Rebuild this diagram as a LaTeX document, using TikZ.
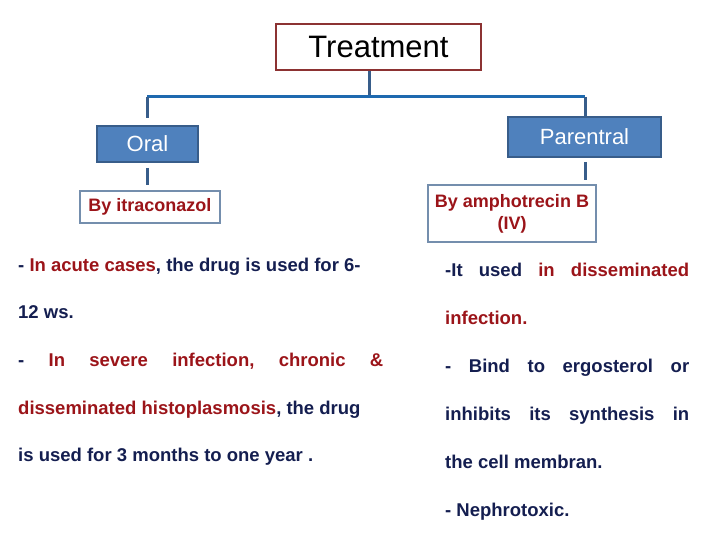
\documentclass[tikz,border=0pt]{standalone}
\usepackage{fontspec}
\setmainfont{Liberation Sans}
\definecolor{dred}{RGB}{155,20,25}
\definecolor{navy}{RGB}{20,30,80}
\definecolor{bfill}{RGB}{79,129,189}
\definecolor{bdraw}{RGB}{56,93,138}
\definecolor{conn}{RGB}{30,105,175}
\definecolor{tbord}{RGB}{140,50,50}
\tikzset{
 blue box/.style={draw=bdraw,fill=bfill,line width=1.5pt,text=white,font=\fontsize{22}{26}\selectfont,inner sep=0pt},
 white box/.style={draw=bdraw!70,fill=white,line width=1.5pt,text=dred,font=\bfseries\fontsize{18}{22}\selectfont,inner sep=0pt,align=center},
 conn/.style={draw=conn,line width=3pt},
 vconn/.style={draw=bdraw,line width=3pt},
 txt/.style={anchor=base west,inner sep=0pt,font=\bfseries\fontsize{18.5}{22}\selectfont,text=navy},
}
\newcommand{\jl}[2]{\hbox to #1{#2}}
\begin{document}
\begin{tikzpicture}[x=1pt,y=-1pt]
\useasboundingbox (0,0) rectangle (720,540);
\node[draw=tbord,line width=1.5pt,minimum width=205pt,minimum height=46pt,inner sep=0pt,font=\fontsize{31}{36}\selectfont] (t) at (378.5,47) {Treatment};
\node[blue box,minimum width=101pt,minimum height=36pt] (o) at (147.5,144) {Oral};
\node[blue box,minimum width=153pt,minimum height=40pt] (p) at (584.5,137) {Parentral};
\node[white box,minimum width=140pt,minimum height=32pt] (i) at (150,207) {By itraconazol};
\node[white box,minimum width=168pt,minimum height=57pt] (a) at (512,213.5) {By amphotrecin B\\(IV)};
\coordinate (h) at (369,97);
\coordinate (hl) at (147,97);
\coordinate (hr) at (585,97);
\draw[vconn] (t.south -| h) -- (h);
\draw[conn] (hl) -- (hr);
\draw[vconn] (hl) -- (147,118);
\draw[vconn] (hr) -- (585,118);
\draw[vconn] (147,168) -- (147,185);
\draw[vconn] (585,162) -- (585,180);
\node[txt] (l1) at (18,271) {\jl{365pt}{- \textcolor{dred}{In acute cases}, the drug is used for 6-\hfill}};
\node[txt] (l2) at (18,318) {12 ws.};
\node[txt] (l3) at (18,366) {\jl{365pt}{-\hfill\textcolor{dred}{In}\hfill\textcolor{dred}{severe}\hfill\textcolor{dred}{infection,}\hfill\textcolor{dred}{chronic}\hfill\textcolor{dred}{\&}}};
\node[txt] (l4) at (18,414) {\textcolor{dred}{disseminated histoplasmosis}, the drug};
\node[txt] (l5) at (18,461) {is used for 3 months to one year .};
\node[txt] (r1) at (445,276) {\jl{244pt}{-It\hfill used\hfill\textcolor{dred}{in}\hfill\textcolor{dred}{disseminated}}};
\node[txt] (r2) at (445,324) {\textcolor{dred}{infection.}};
\node[txt] (r3) at (445,372) {\jl{244pt}{-\hfill Bind\hfill to\hfill ergosterol\hfill or}};
\node[txt] (r4) at (445,420) {\jl{244pt}{inhibits\hfill its\hfill synthesis\hfill in}};
\node[txt] (r5) at (445,468) {the cell membran.};
\node[txt] (r6) at (445,516) {- Nephrotoxic.};
\end{tikzpicture}
\end{document}
